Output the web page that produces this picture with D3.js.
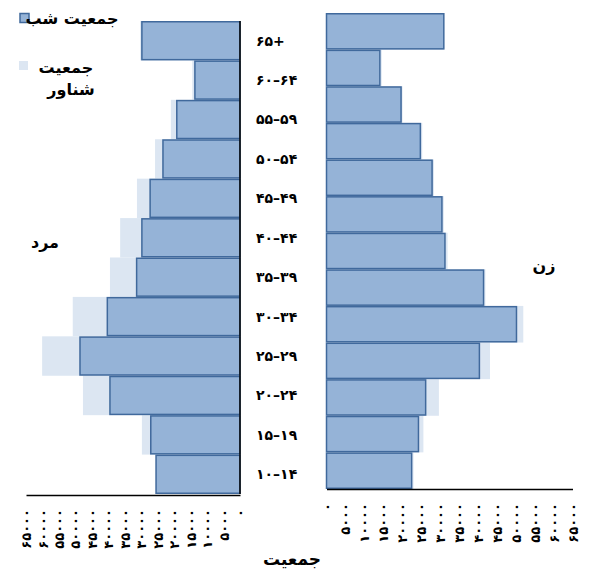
<!DOCTYPE html>
<html lang="fa">
<head>
  <meta charset="UTF-8" />
  <title>هرم جمعیت</title>
  <script src="https://cdn.jsdelivr.net/npm/d3@7/dist/d3.min.js"></script>
  <style>
    body { margin: 0; background: #fff; }
    svg text { font-family: "DejaVu Sans", sans-serif; fill: #000; }
  </style>
</head>
<body>
  <svg id="chart" width="596" height="569"></svg>
  <script>
    // age groups, top to bottom (left panel / centre labels)
    var ageGroups = ["65+", "60-64", "55-59", "50-54", "45-49", "40-44", "35-39",
                     "30-34", "25-29", "20-24", "15-19", "10-14"];
    // men
    var menNight    = [29800, 13700, 19200, 23400, 27300, 29800, 31400, 40300, 48600, 39500, 27100, 25500];
    var menFloating = [30300, 14500, 21000, 25800, 31300, 36400, 39500, 50800, 60100, 47700, 29800, 25500];
    // women panel has 13 rows in the picture
    var womenRows     = ["r1", "r2", "r3", "r4", "r5", "r6", "r7", "r8", "r9", "r10", "r11", "r12", "r13"];
    var womenNight    = [31000, 14100, 19700, 24800, 27900, 30500, 31300, 41500, 50200, 40400, 26200, 24300, 22500];
    var womenFloating = [31000, 14600, 20100, 25300, 28400, 31000, 32000, 42000, 52000, 43200, 29700, 25600, 23000];
    var ticks = d3.range(0, 65001, 5000);

    var NIGHT = "#95B3D7", NIGHT_EDGE = "#40699C", FLOAT = "#DCE6F2";
    var fa = function(s) { return String(s).replace(/\d/g, function(d) { return "۰۱۲۳۴۵۶۷۸۹"[d]; }); };

    var svg = d3.select("#chart");

    var xL = d3.scaleLinear().domain([0, 65000]).range([240, 26]);
    var yL = d3.scaleBand().domain(ageGroups).range([21, 494]);
    var xR = d3.scaleLinear().domain([0, 65000]).range([326.5, 572.5]);
    var yR = d3.scaleBand().domain(womenRows).range([13, 489]);

    // floating population (behind)
    svg.append("g").selectAll("rect").data(ageGroups).join("rect")
      .attr("x", (d, i) => xL(menFloating[i]))
      .attr("y", d => yL(d))
      .attr("width", (d, i) => xL(0) - xL(menFloating[i]))
      .attr("height", yL.bandwidth())
      .attr("fill", FLOAT);
    svg.append("g").selectAll("rect").data(womenRows).join("rect")
      .attr("x", xR(0))
      .attr("y", d => yR(d))
      .attr("width", (d, i) => xR(womenFloating[i]) - xR(0))
      .attr("height", yR.bandwidth())
      .attr("fill", FLOAT);

    // night population
    svg.append("g").selectAll("rect").data(ageGroups).join("rect")
      .attr("x", (d, i) => xL(menNight[i]))
      .attr("y", d => yL(d) + 0.75)
      .attr("width", (d, i) => xL(0) - xL(menNight[i]))
      .attr("height", yL.bandwidth() - 1.5)
      .attr("fill", NIGHT)
      .attr("stroke", NIGHT_EDGE)
      .attr("stroke-width", 1.5);
    svg.append("g").selectAll("rect").data(womenRows).join("rect")
      .attr("x", xR(0))
      .attr("y", d => yR(d) + 0.75)
      .attr("width", (d, i) => xR(womenNight[i]) - xR(0))
      .attr("height", yR.bandwidth() - 1.5)
      .attr("fill", NIGHT)
      .attr("stroke", NIGHT_EDGE)
      .attr("stroke-width", 1.5);

    // left vertical axis line
    svg.append("line")
      .attr("x1", xL(0)).attr("x2", xL(0))
      .attr("y1", yL.range()[0]).attr("y2", yL.range()[1])
      .attr("stroke", "#000").attr("stroke-width", 1.5);

    // bottom axes, labels turned on their side
    function styleAxis(g) {
      g.select(".domain").attr("stroke", "#000").attr("stroke-width", 1.5);
      g.selectAll(".tick text")
        .attr("transform", "rotate(-90)")
        .attr("text-anchor", "end")
        .attr("x", 0).attr("y", 0)
        .attr("dx", "-14px").attr("dy", "0.35em")
        .style("font-size", "13px")
        .style("font-weight", "bold")
        .style("letter-spacing", "1.5px");
    }
    svg.append("g")
      .attr("transform", "translate(0,495)")
      .call(d3.axisBottom(xL).tickValues(ticks).tickSize(0).tickSizeOuter(0).tickFormat(fa))
      .call(styleAxis);
    svg.append("g")
      .attr("transform", "translate(0,489)")
      .call(d3.axisBottom(xR).tickValues(ticks).tickSize(0).tickSizeOuter(0).tickFormat(fa))
      .call(styleAxis);

    // centre age labels
    svg.append("g").selectAll("text").data(ageGroups).join("text")
      .attr("x", 256)
      .attr("y", d => yL(d) + yL.bandwidth() / 2)
      .attr("dy", "0.35em")
      .attr("direction", "ltr")
      .style("unicode-bidi", "bidi-override")
      .style("font-size", "14px")
      .style("font-weight", "bold")
      .text(d => fa(d).replace("-", "–"));

    // titles
    svg.append("text").attr("x", 45).attr("y", 242).attr("dy", "0.35em")
      .attr("text-anchor", "middle").style("font-size", "16px").style("font-weight", "bold").text("مرد");
    svg.append("text").attr("x", 544).attr("y", 265).attr("dy", "0.35em")
      .attr("text-anchor", "middle").style("font-size", "16px").style("font-weight", "bold").text("زن");
    svg.append("text").attr("x", 292).attr("y", 559).attr("dy", "0.35em")
      .attr("text-anchor", "middle").style("font-size", "17px").style("font-weight", "bold").text("جمعیت");

    // legend
    var legend = svg.append("g");
    legend.append("rect").attr("x", 20).attr("y", 13.5).attr("width", 9).attr("height", 9)
      .attr("fill", NIGHT).attr("stroke", NIGHT_EDGE).attr("stroke-width", 1.5);
    legend.append("text").attr("x", 72).attr("y", 18).attr("dy", "0.35em").attr("text-anchor", "middle")
      .style("font-size", "16px").style("font-weight", "bold").text("جمعیت شب");
    legend.append("rect").attr("x", 19).attr("y", 61).attr("width", 9).attr("height", 9)
      .attr("fill", FLOAT);
    legend.append("text").attr("x", 66).attr("y", 67).attr("dy", "0.35em").attr("text-anchor", "middle")
      .style("font-size", "16px").style("font-weight", "bold").text("جمعیت");
    legend.append("text").attr("x", 71).attr("y", 89).attr("dy", "0.35em").attr("text-anchor", "middle")
      .style("font-size", "16px").style("font-weight", "bold").text("شناور");
  </script>
</body>
</html>
